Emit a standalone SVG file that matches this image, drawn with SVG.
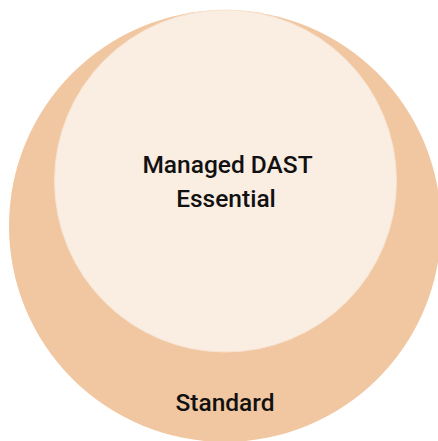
<svg xmlns="http://www.w3.org/2000/svg" width="438" height="441" viewBox="0 0 438 441">
<style>
.lbl{font-family:Roboto,"Liberation Sans",sans-serif;font-size:24.5px;font-weight:500;fill:#111111;text-anchor:middle}
</style>
<rect width="438" height="441" fill="#ffffff"/>
<g id="standard">
<circle cx="225" cy="226" r="216" fill="#F1C7A1"/>
<text class="lbl" x="225" y="411">Standard</text>
</g>
<g id="essential">
<circle cx="225.5" cy="181" r="171" fill="#FAEDE2" stroke="#F8E4D3" stroke-width="1"/>
<text class="lbl" x="227.5" y="173">Managed DAST</text>
<text class="lbl" x="226" y="207">Essential</text>
</g>
<g id="connectors"/>
</svg>
